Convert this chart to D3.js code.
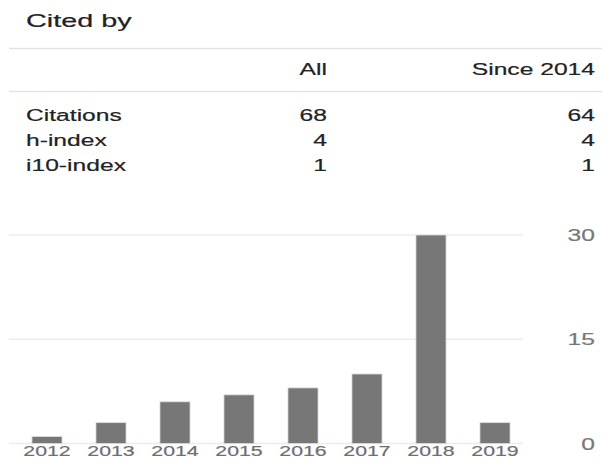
<!DOCTYPE html>
<html>
<head>
<meta charset="utf-8">
<script src="https://cdn.jsdelivr.net/npm/d3@7"></script>
<style>
  body { margin: 0; background: #fff; }
  svg { display: block; font-family: "Liberation Sans", Arial, sans-serif; }
</style>
</head>
<body>
<svg id="chart" width="602" height="459"></svg>
<script>
// citation data
var years = ["2012", "2013", "2014", "2015", "2016", "2017", "2018", "2019"];
var cites = [1, 3, 6, 7, 8, 10, 30, 3];
var yTicks = [0, 15, 30];
var tableCols = ["All", "Since 2014"];
var tableRows = ["Citations", "h-index", "i10-index"];
var allVals = [68, 4, 1];
var sinceVals = [64, 4, 1];

var svg = d3.select("#chart");
var SX = 1.45; // picture is stretched sideways

// text helper, x/y in pixels, glyphs stretched by sx
function label(x, y, txt, size, color, anchor, sx) {
  return svg.append("text")
    .attr("transform", "translate(" + x + "," + y + ") scale(" + (sx || SX) + ",1)")
    .attr("text-anchor", anchor || "start")
    .style("font-size", size + "px")
    .style("fill", color)
    .style("stroke", color)
    .style("stroke-width", 0.2)
    .text(txt);
}

/* header + table */
label(26, 27, "Cited by", 18, "#222", "start", 1.6);

svg.append("line").attr("x1", 9).attr("x2", 602).attr("y1", 48.5).attr("y2", 48.5)
  .style("stroke", "#e3e3e3").style("stroke-width", 1.5);
svg.append("line").attr("x1", 9).attr("x2", 602).attr("y1", 91.5).attr("y2", 91.5)
  .style("stroke", "#e3e3e3").style("stroke-width", 1.5);

var colX = [327, 595];
tableCols.forEach(function(c, i) {
  label(colX[i], 75, c, 17, "#222", "end");
});
tableRows.forEach(function(r, i) {
  var y = 121 + i * 25;
  label(26, y, r, 17, "#222", "start");
  label(colX[0], y, allVals[i], 17, "#222", "end");
  label(colX[1], y, sinceVals[i], 17, "#222", "end");
});

/* bar chart */
var x = d3.scaleBand().domain(years).range([15, 527])
  .paddingInner(0.53).paddingOuter(0.265);
var y = d3.scaleLinear().domain([0, 30]).range([443.5, 235]);

svg.selectAll("line.grid")
  .data(yTicks)
  .enter().append("line")
  .attr("class", "grid")
  .attr("x1", 9).attr("x2", 523)
  .attr("y1", function(d) { return y(d); })
  .attr("y2", function(d) { return y(d); })
  .style("stroke", "#ececec")
  .style("stroke-width", 1.5);

yTicks.forEach(function(t) {
  label(595, y(t) + 6, t, 17, "#777", "end");
});

svg.selectAll("rect.bar")
  .data(cites)
  .enter().append("rect")
  .attr("class", "bar")
  .attr("x", function(d, i) { return x(years[i]); })
  .attr("width", x.bandwidth())
  .attr("y", function(d) { return y(d); })
  .attr("height", function(d) { return y(0) - y(d); })
  .style("fill", "#777")
  .style("stroke", "#ddd")
  .style("stroke-width", 0.8);

years.forEach(function(yr) {
  label(x(yr) + x.bandwidth() / 2, 456, yr, 15, "#6f6f6f", "middle", 1.42);
});
</script>
</body>
</html>
